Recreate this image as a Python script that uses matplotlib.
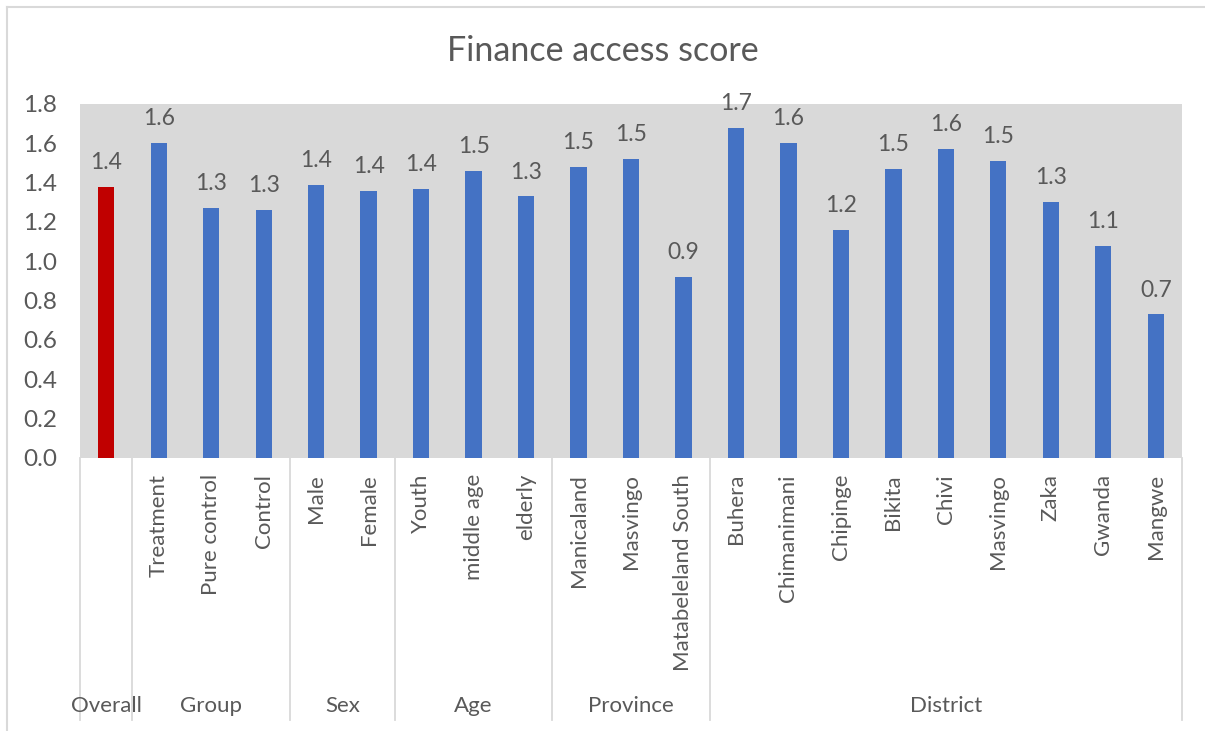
import matplotlib
matplotlib.use("Agg")
import matplotlib.pyplot as plt
from matplotlib.transforms import blended_transform_factory
from matplotlib.lines import Line2D

plt.rcParams['font.family'] = ['Lato', 'DejaVu Sans']

# Data
groups = ["Overall", "Group", "Sex", "Age", "Province", "District"]
group_sizes = [1, 3, 2, 3, 3, 9]
categories = ["", "Treatment", "Pure control", "Control", "Male", "Female",
              "Youth", "middle age", "elderly", "Manicaland", "Masvingo",
              "Matabeleland South", "Buhera", "Chimanimani", "Chipinge",
              "Bikita", "Chivi", "Masvingo", "Zaka", "Gwanda", "Mangwe"]
scores = [1.38, 1.60, 1.27, 1.26, 1.39, 1.36, 1.37, 1.46, 1.33, 1.48, 1.52,
          0.92, 1.68, 1.60, 1.16, 1.47, 1.57, 1.51, 1.30, 1.08, 0.73]

BLUE = "#4472C4"
RED = "#C00000"
TXT = "#595959"
GRID = "#D9D9D9"

W, H = 1205, 731
fig = plt.figure(figsize=(W / 100, H / 100), dpi=100)
fig.patch.set_facecolor("white")

# chart border (left and top edges visible)
fig.add_artist(Line2D([7 / W, 7 / W], [0, 1 - 7 / H], transform=fig.transFigure,
                      color=GRID, lw=1.5))
fig.add_artist(Line2D([7 / W, 1], [1 - 7 / H, 1 - 7 / H], transform=fig.transFigure,
                      color=GRID, lw=1.5))

left, right, top, bottom = 80, 1182, 104, 458
ax = fig.add_axes([left / W, 1 - bottom / H, (right - left) / W, (bottom - top) / H])
ax.set_facecolor(GRID)
for s in ax.spines.values():
    s.set_visible(False)

x = list(range(len(scores)))
colors = [RED] + [BLUE] * (len(scores) - 1)
ax.bar(x, scores, width=0.31, color=colors, zorder=2)
ax.set_xlim(-0.5, len(scores) - 0.5)
ax.set_ylim(0, 1.8)
ax.set_yticks([i / 10 for i in range(0, 19, 2)])
ax.set_yticklabels([f"{i / 10:.1f}" for i in range(0, 19, 2)])
ax.tick_params(axis="y", length=0, pad=16.5, labelsize=17.5, labelcolor=TXT)
ax.set_xticks([])

for xi, v in zip(x, scores):
    ax.annotate(f"{v:.1f}", (xi, v), xytext=(0, 10), textcoords="offset points",
                ha="center", va="bottom", fontsize=16.5, color=TXT)

trans = blended_transform_factory(ax.transData, ax.transAxes)
depth = (720 - bottom) / (bottom - top)

# category labels
for xi, c in zip(x, categories):
    if c:
        ax.text(xi, -(474 - bottom) / (bottom - top), c, transform=trans, rotation=90,
                ha="center", va="top", fontsize=16, color=TXT)

# group separators and group labels
pos = -0.5
edges = [pos]
for g, n in zip(groups, group_sizes):
    center = pos + n / 2
    ax.text(center, -(706 - bottom) / (bottom - top), g, transform=trans,
            ha="center", va="center", fontsize=16, color=TXT)
    pos += n
    edges.append(pos)
for e in edges:
    ax.add_line(Line2D([e, e], [0, -depth], transform=trans, color=GRID, lw=1.3,
                       clip_on=False))

fig.text(0.5, 1 - 51 / H, "Finance access score", ha="center", va="center",
         fontsize=24.5, color=TXT)

fig.savefig("out.png", dpi=100, facecolor="white")
